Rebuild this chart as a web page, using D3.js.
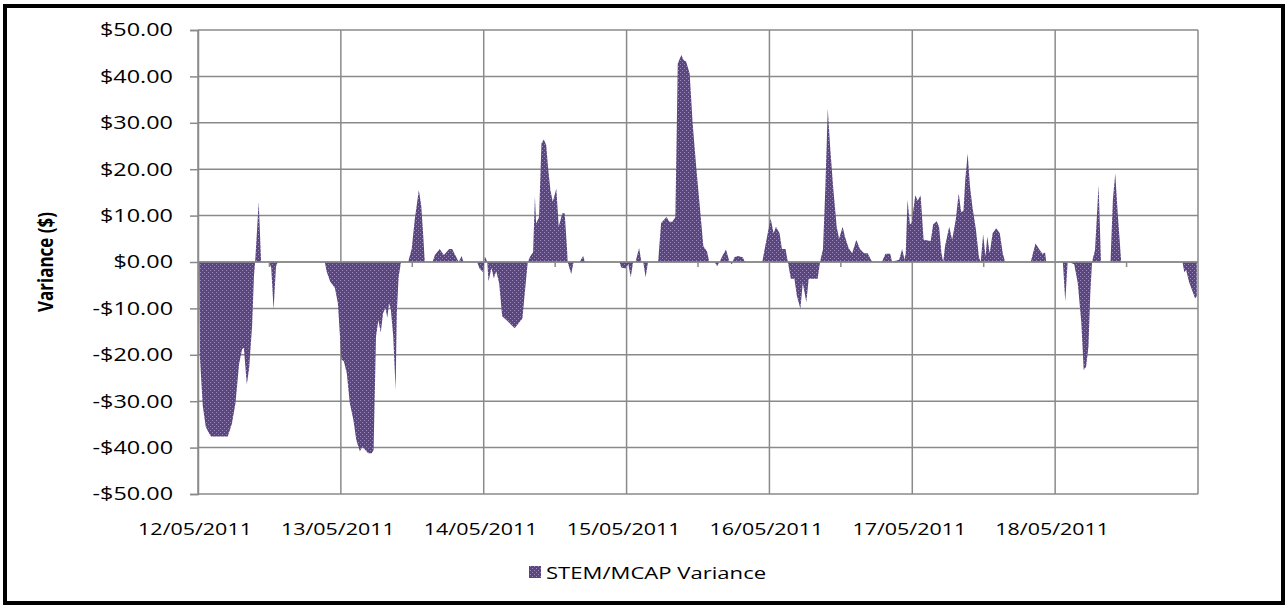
<!DOCTYPE html>
<html>
<head>
<meta charset="utf-8">
<script src="https://cdn.jsdelivr.net/npm/d3@7"></script>
<style>
  body { margin: 0; background: #fff; }
  text { font-family: "Open Sans", sans-serif; fill: #000; }
</style>
</head>
<body>
<script>
// hours since 12/05/2011 00:00
var hours = [
  0.2, 0.3, 0.8, 1.3, 1.9, 2.2, 5.0, 5.7, 6.3, 6.9, 7.4, 7.7, 8.2, 8.6, 9.1, 9.4, 9.6, 10.2, 10.6,
  11.9, 12.3, 12.7, 13.1, 13.4, 21.3, 21.6, 22.2, 23.0, 23.5,
  24.1, 24.5, 25.0, 25.5, 26.1, 26.6, 27.2, 27.6, 28.1, 28.6, 29.2, 29.5, 29.9, 30.3, 30.7, 31.1,
  31.5, 31.8, 32.1, 32.4, 32.8, 33.2, 33.4, 33.7, 34.1, 35.3, 35.9, 36.4, 37.1, 37.5, 37.8, 38.1,
  39.4, 39.8, 40.6, 41.3, 42.2, 42.7, 43.4, 43.8, 44.3, 44.6, 46.9, 47.3, 47.9,
  48.2, 48.6, 48.8, 49.3, 49.7, 50.1, 50.6, 51.1, 51.8, 52.6, 53.2, 53.8, 54.5, 54.9, 55.4, 55.8,
  56.3, 56.6, 56.8, 57.3, 57.7, 58.1, 58.5, 58.8, 59.2, 59.6, 60.2, 60.6, 61.2, 61.6, 62.0, 62.1,
  62.7, 63.1, 64.1, 64.7, 65.0, 70.8, 71.1, 71.8,
  72.3, 72.7, 73.1, 73.5, 74.1, 74.5, 74.8, 75.2, 75.6, 77.3, 77.8, 78.7, 79.2, 79.7, 80.2, 80.6,
  81.2, 81.6, 82.0, 82.6, 83.1, 83.7, 84.3, 84.9, 85.5, 85.9, 86.8, 87.2, 87.6, 88.1, 88.7, 89.3,
  89.7, 90.1, 90.7, 91.5, 91.9, 94.8, 95.2,
  96.2, 96.7, 97.1, 97.7, 98.1, 98.7, 99.1, 99.6, 100.2, 100.6, 101.2, 101.6, 102.2, 102.6, 104.1,
  104.5, 105.0, 105.4, 105.8, 106.2, 106.7, 107.3, 107.7, 108.3, 108.7, 109.3, 109.9, 110.6, 111.2,
  111.9, 112.5, 113.1, 113.3, 114.9, 115.5, 116.3, 116.6, 117.3, 117.8, 118.3, 118.7, 118.9, 119.2,
  119.6, 119.9,
  120.5, 120.9, 121.4, 121.9, 123.1, 123.5, 124.1, 124.5, 124.9, 125.2, 125.5, 126.2, 126.7, 127.3,
  127.8, 128.2, 128.6, 128.9, 129.3, 129.7, 130.1, 130.7, 131.2, 131.5, 131.9, 132.3, 132.6, 133.0,
  133.5, 134.1, 134.7, 135.2, 135.6, 139.9, 140.7, 141.3, 141.9, 142.3, 142.5,
  145.3, 145.7, 146.1, 146.7, 147.2, 147.8, 148.4, 148.8, 149.2, 149.6, 149.9, 150.2, 150.7, 151.3,
  151.7, 153.3, 153.7, 154.1, 154.5, 155.1, 165.4, 165.7, 166.0, 166.5, 167.5, 167.8
];

var variance = [
  0, -20, -31, -35.5, -37, -37.6, -37.6, -34.8, -30.4, -22, -18.8, -18.5, -26.4, -22.8, -13.5, -3, 0, 13, 0,
  0, -1.2, -10.3, -1, 0, 0, -2, -4.2, -5.6, -8.9,
  -21, -21.4, -24, -30.4, -34, -38.4, -40.8, -39.8, -40.5, -41.2, -41.2, -40.5, -16.1, -12.5, -15.2, -11,
  -9.9, -12, -8.9, -10.3, -16, -27.6, -11, -3.3, 0, 0, 2.8, 9, 15.5, 12.2, 6.5, 0,
  0, 1.5, 2.8, 1.5, 2.8, 2.8, 1, 0, 1.3, 0, 0, -1.4, -2.2,
  1.2, 0, -4.2, -1.3, -3.5, -2, -4.6, -11.7, -12.5, -13.5, -14.3, -13.3, -12.2, -6.7, 0, 1.2,
  2.1, 14.1, 8.3, 9.7, 25.6, 26.4, 25.2, 20.5, 15.5, 13, 15.8, 7.6, 10.5, 10.5, 2.8, 0,
  -2.6, 0, 0, 1.3, 0, 0, -1.2, -1.4,
  -0.5, -3.3, 0, 0, 3, 0, 0, -3.3, 0, 0, 8.4, 9.7, 8.7, 8.7, 9.7, 42.8,
  44.6, 43.5, 43.2, 40.6, 29.9, 20.5, 12, 3.4, 2.3, 0, 0, -0.9, 0, 1.3, 2.7, 0,
  -0.5, 1, 1.3, 1, 0, 0, 2.8,
  9.4, 6.2, 7.6, 6.2, 2.8, 2.8, 0, -3.6, -3.6, -7.2, -10.1, -4.5, -8.6, -3.6, -3.6,
  0, 2.8, 16.2, 33.1, 24.8, 16.2, 7.6, 5, 7.6, 5.4, 3, 1.9, 4.8, 2.8,
  1.9, 1.9, 0.4, 0, 0, 1.8, 1.8, 0, 0.3, 0.5, 2.8, 0.5, 1.9, 13.4,
  8.1, 8.4,
  14.4, 13.2, 14.4, 4.8, 4.5, 8.1, 8.8, 7.6, 1.9, 0, 3.4, 7.6, 4.8, 9.1,
  14.8, 10.8, 11, 17.7, 23.4, 16.2, 11.9, 6.9, 1, 0, 6, 1.2, 5.5, 1.9,
  6.2, 7.3, 6.2, 1.9, 0, 0, 4, 2.8, 1.7, 2.1, 0,
  0, -8.5, 0, -0.2, -0.5, -4.5, -13.1, -23.3, -22.6, -18.2, -6.9, 0, 2.6, 16.6,
  0, 0, 13.4, 19.1, 10.7, 0, 0, -2.2, -1.7, -4.3, -7.8, -7.5
];

var dayLabels = ["12/05/2011", "13/05/2011", "14/05/2011", "15/05/2011", "16/05/2011", "17/05/2011", "18/05/2011"];
var yTicks = [50, 40, 30, 20, 10, 0, -10, -20, -30, -40, -50];
var seriesName = "STEM/MCAP Variance";

var W = 1288, H = 608;
var plotL = 198, plotR = 1198, plotT = 30, plotB = 494;
var sx = 1.3; // text in the picture is stretched sideways
var gridColor = "#8a8a8a";

var svg = d3.select("body").append("svg")
    .attr("width", W)
    .attr("height", H);

var defs = svg.append("defs");
var pat = defs.append("pattern")
    .attr("id", "dots")
    .attr("patternUnits", "userSpaceOnUse")
    .attr("width", 4)
    .attr("height", 4);
pat.append("rect").attr("width", 4).attr("height", 4).attr("fill", "#5b477e");
pat.append("rect").attr("x", 0).attr("y", 0).attr("width", 1).attr("height", 1).attr("fill", "#9b8cbb");
pat.append("rect").attr("x", 2).attr("y", 2).attr("width", 1).attr("height", 1).attr("fill", "#9b8cbb");

var x = d3.scaleLinear().domain([0, 168]).range([plotL, plotR]);
var y = d3.scaleLinear().domain([-50, 50]).range([plotB, plotT]);

var data = hours.map(function(h, i) { return {h: h, v: variance[i]}; });

// gridlines
svg.append("g").selectAll("line")
    .data(yTicks)
    .enter().append("line")
    .attr("x1", plotL).attr("x2", plotR)
    .attr("y1", function(d) { return y(d); })
    .attr("y2", function(d) { return y(d); })
    .style("stroke", gridColor)
    .style("stroke-width", 1.5);

var days = d3.range(0, 8).map(function(d) { return d * 24; });
svg.append("g").selectAll("line")
    .data(days)
    .enter().append("line")
    .attr("x1", function(d) { return x(d); })
    .attr("x2", function(d) { return x(d); })
    .attr("y1", plotT).attr("y2", plotB)
    .style("stroke", gridColor)
    .style("stroke-width", 1.5);

// the area
var area = d3.area()
    .x(function(d) { return x(d.h); })
    .y0(y(0))
    .y1(function(d) { return y(d.v); });

svg.append("path")
    .datum(data)
    .attr("d", area)
    .attr("fill", "url(#dots)");

// y axis
var yAxis = d3.axisLeft(y)
    .tickValues(yTicks)
    .tickSize(8)
    .tickSizeOuter(8)
    .tickFormat("");
var ya = svg.append("g")
    .attr("transform", "translate(" + plotL + ",0)")
    .call(yAxis);
ya.selectAll("path, line").style("stroke", gridColor).style("stroke-width", 1.5);

function fmt(d) {
    return (d < 0 ? "-$" : "$") + Math.abs(d).toFixed(2);
}

svg.append("g").selectAll("text")
    .data(yTicks)
    .enter().append("text")
    .attr("transform", function(d) { return "translate(173," + y(d) + ") scale(" + sx + ",1)"; })
    .attr("text-anchor", "end")
    .attr("dy", "0.36em")
    .style("font-size", "18px")
    .text(fmt);

// zero line with half-day ticks
svg.append("line")
    .attr("x1", plotL).attr("x2", plotR)
    .attr("y1", y(0)).attr("y2", y(0))
    .style("stroke", gridColor)
    .style("stroke-width", 1.5);

var halfDays = d3.range(0, 7).map(function(d) { return d * 24 + 12; });
svg.append("g").selectAll("line")
    .data(halfDays)
    .enter().append("line")
    .attr("x1", function(d) { return x(d); })
    .attr("x2", function(d) { return x(d); })
    .attr("y1", y(0)).attr("y2", y(0) + 5)
    .style("stroke", gridColor)
    .style("stroke-width", 1.5);

// x labels
svg.append("g").selectAll("text")
    .data(dayLabels)
    .enter().append("text")
    .attr("transform", function(d, i) { return "translate(" + (x(i * 24) - 3) + ",535) scale(" + sx + ",1)"; })
    .attr("text-anchor", "middle")
    .style("font-size", "16.5px")
    .text(function(d) { return d; });

// y title
svg.append("text")
    .attr("transform", "translate(53,262) scale(" + sx + ",1) rotate(-90)")
    .attr("text-anchor", "middle")
    .style("font-size", "17px")
    .style("font-weight", "bold")
    .text("Variance ($)");

// legend
svg.append("rect")
    .attr("x", 529).attr("y", 566)
    .attr("width", 12).attr("height", 12)
    .attr("fill", "url(#dots)");
svg.append("text")
    .attr("transform", "translate(546,579) scale(" + sx + ",1)")
    .style("font-size", "17px")
    .text(seriesName);

// outer frame
svg.append("rect")
    .attr("x", 5).attr("y", 6)
    .attr("width", W - 10).attr("height", H - 11)
    .attr("fill", "none")
    .attr("stroke", "#000")
    .attr("stroke-width", 4);
</script>
</body>
</html>
